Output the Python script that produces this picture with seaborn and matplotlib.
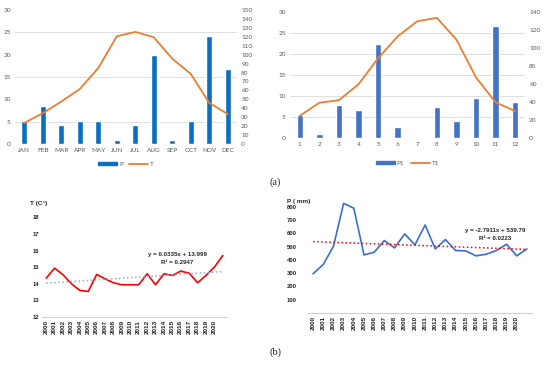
import numpy as np
import pandas as pd
import matplotlib.pyplot as plt
import seaborn as sns
from matplotlib.patches import Patch
from matplotlib.lines import Line2D

# ---- data ----
months = ['JAN', 'FEB', 'MAR', 'APR', 'MAY', 'JUN', 'JUL', 'AUG', 'SEP', 'OCT', 'NOV', 'DEC']
p_month = [26, 42, 21, 26, 26, 5, 21, 100, 5, 26, 121, 84]
t_month = [4.7, 6.9, 9.5, 12.3, 17.0, 24.1, 25.1, 23.9, 19.1, 15.7, 9.2, 6.7]

month_nums = [str(i) for i in range(1, 13)]
p1_month = [26, 4.8, 36.5, 31, 104, 12.3, 0, 35, 19, 44, 124, 39.5]
t1_month = [5.3, 8.4, 9.0, 12.8, 19.0, 24.2, 27.8, 28.6, 23.4, 14.4, 8.5, 6.4]

years = [str(y) for y in range(2000, 2021)] + ['']
t_year = [14.34, 14.94, 14.54, 14.0, 13.6, 13.54, 14.56, 14.3, 14.06, 13.94, 13.94,
          13.94, 14.6, 13.94, 14.6, 14.5, 14.76, 14.64, 14.06, 14.5, 15.0, 15.7]
p_year = [295, 365, 502, 825, 788, 437, 457, 545, 490, 595, 512,
          662, 482, 552, 470, 467, 430, 442, 470, 517, 430, 482]
t_trend = (0.0335, 13.999)
p_trend = (-2.7911, 539.79)

sns.set_style('white')
plt.rcParams['font.family'] = ['Lato', 'DejaVu Sans']

fig = plt.figure(figsize=(5.5, 3.65), dpi=100)
W, H = 550, 365


def rect(x0, y0, x1, y1):
    return [x0 / W, 1 - y1 / H, (x1 - x0) / W, (y1 - y0) / H]


def combo(r, cats, bars, line, bar_max, bar_step, bar_color, names, leg_y):
    axb = fig.add_axes(r)
    axl = axb.twinx()
    df = pd.DataFrame({'cat': cats, 'bar': bars, 'line': line})
    sns.barplot(data=df, x='cat', y='bar', color=bar_color, width=0.33,
                saturation=1, ax=axb)
    sns.lineplot(x=np.arange(len(cats)), y=df['line'], color='#ED7D31',
                 lw=1.3, ax=axl)
    axl.set_zorder(axb.get_zorder() + 1)
    axl.patch.set_visible(False)
    axb.set_xlim(-0.5, len(cats) - 0.5)
    axb.set_ylim(0, bar_max)
    axl.set_ylim(0, 30)
    axb.set_yticks(np.arange(0, bar_max + 1, bar_step))
    axb.set_yticks(np.linspace(0, bar_max, 7), minor=True)
    axb.yaxis.tick_right()
    axl.yaxis.tick_left()
    axl.set_yticks(np.arange(0, 31, 5))
    axb.grid(which='minor', axis='y', color='#d9d9d9', lw=0.6)
    axb.set_axisbelow(True)
    for a in (axb, axl):
        a.set_xlabel('')
        a.set_ylabel('')
        for s in a.spines.values():
            s.set_visible(False)
        a.tick_params(which='both', length=0, labelsize=4.6, colors='#595959', pad=3)
    handles = [Patch(color=bar_color), Line2D([], [], color='#ED7D31', lw=1.3)]
    axb.legend(handles, names, loc='center', bbox_to_anchor=(0.5, leg_y), ncol=2,
               frameon=False, fontsize=4.6, handlelength=3, handleheight=0.35,
               columnspacing=1.0, handletextpad=0.3, labelcolor='#595959')


combo(rect(15, 10, 237, 144), months, p_month, t_month, 150, 10, '#0A6FC2',
      ['P', 'T'], -0.15)
combo(rect(290, 12, 525, 138), month_nums, p1_month, t1_month, 140, 20, '#4472C4',
      ['P1', 'T1'], -0.2)

narrow = ['Liberation Sans Narrow', 'Liberation Sans', 'DejaVu Sans']


def trend_chart(r, vals, trend, ylim, yticks, color, tcolor, ylab, lab_xy, eq, eq_xy, ypad):
    ax = fig.add_axes(r)
    x = np.arange(len(years))
    sns.lineplot(x=x, y=vals, color=color, lw=1.2, ax=ax)
    slope, icpt = trend
    sns.lineplot(x=x, y=slope * (x + 1) + icpt, color=tcolor, lw=1.1,
                 linestyle=':', ax=ax)
    ax.set_xlim(-0.5, len(years) - 0.5)
    ax.set_ylim(*ylim)
    ax.set_yticks(yticks)
    ax.set_yticklabels([str(v) for v in yticks], fontsize=4.2, fontweight='bold',
                       family=narrow)
    ax.set_xticks(x)
    ax.set_xticklabels(years, rotation=90, fontsize=4.6, fontweight='bold',
                       family=narrow)
    ax.tick_params(length=0, pad=2, colors='#222222')
    ax.tick_params(axis='y', pad=ypad)
    for s in ['top', 'right', 'left']:
        ax.spines[s].set_visible(False)
    ax.spines['bottom'].set_color('#d0d0d0')
    ax.spines['bottom'].set_linewidth(0.8)
    ax.text(lab_xy[0], lab_xy[1], ylab, transform=ax.transAxes, ha='center',
            va='center', fontsize=4.6, fontweight='bold', family=narrow)
    ax.text(eq_xy[0], eq_xy[1], eq[0], transform=ax.transAxes, ha='center',
            va='center', fontsize=4.4, fontweight='bold', family=narrow)
    ax.text(eq_xy[0], eq_xy[1] - 0.07, eq[1], transform=ax.transAxes, ha='center',
            va='center', fontsize=4.4, fontweight='bold', family=narrow)


trend_chart(rect(42, 209, 227, 317), t_year, t_trend, (12, 18.5),
            [12, 13, 14, 15, 16, 17, 18], '#FF0000', '#8FAADC', 'T (C°)',
            (-0.02, 1.055), ['y = 0.0335x + 13.999', 'R² = 0.2947'], (0.73, 0.575), 2)
trend_chart(rect(308, 200, 532, 313), p_year, p_trend, (0, 850),
            [100, 200, 300, 400, 500, 600, 700, 800], '#3A6FD0', '#FF0000', 'P ( mm)',
            (-0.04, 0.99), ['y = -2.7911x + 539.79', 'R² = 0.0223'], (0.835, 0.73), 8)

fig.text(275 / W, 1 - 182 / H, '(a)', ha='center', va='center', fontsize=7.5,
         family=['Liberation Serif', 'DejaVu Serif'])
fig.text(275 / W, 1 - 352 / H, '(b)', ha='center', va='center', fontsize=7.5,
         family=['Liberation Serif', 'DejaVu Serif'])

fig.savefig('out.png', dpi=100)
